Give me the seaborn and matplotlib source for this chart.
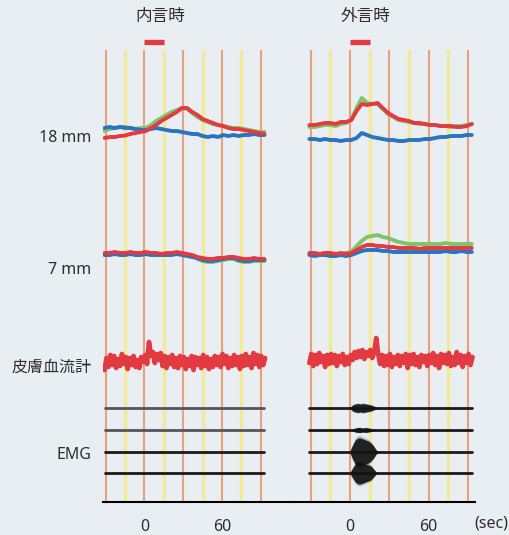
import numpy as np
import pandas as pd
import matplotlib
matplotlib.use("Agg")
import matplotlib.pyplot as plt
import seaborn as sns

# ---------------- data ----------------
# coarse time grid (sec) for the tissue-oxygenation traces
t_coarse = [-31, -27, -23, -19, -15, -11, -7, -3, 1, 5, 9, 13, 17, 21, 25, 29,
            33, 37, 41, 45, 49, 53, 57, 61, 65, 69, 73, 77, 81, 85, 89, 93]

# 18 mm channel, 内言時 (inner speech)
in18_red = [-8, -7, -7, -6, -5.5, -4, -3, -2, -1, 2, 5, 9, 12, 15, 18, 22,
            22, 18, 15, 11, 9, 7, 5, 4, 2, 1, 1, 0, -1, -2, -3, -4]
in18_green = [-1, 1, 2, 3, 3, 2, 1, 2, 2, 5, 9, 12, 15, 18, 20, 22,
              21, 17, 13, 10, 8, 6, 5, 4, 3, 2, 2, 1, 0, -1, -2, -2]
in18_blue = [2, 3, 2, 3, 2, 2, 1, 0, 0, 1, 2, 1, 0, -1, -1, -2,
             -3, -4, -4, -6, -7, -6, -7, -5, -6, -5, -6, -5, -5, -4, -5, -5]
# 18 mm channel, 外言時 (overt speech)
out18_red = [5, 5, 6, 7, 7, 6, 8, 8, 10, 19, 26, 25, 26, 27, 22, 17,
             14, 11, 10, 9, 7, 7, 6, 5, 5, 4, 4, 4, 3, 3, 4, 6]
out18_green = [3, 3, 4, 5, 5, 4, 6, 7, 10, 22, 32, 27, 26, 26, 21, 16,
               13, 10, 9, 8, 7, 6, 6, 5, 5, 4, 4, 3, 4, 4, 5, 6]
out18_blue = [-9, -9, -10, -9, -10, -10, -11, -10, -10, -8, -3, -5, -7, -8, -9, -10,
              -10, -11, -11, -10, -10, -10, -9, -9, -8, -7, -7, -6, -6, -6, -5, -5]

# 7 mm channel
in7_red = [2, 2, 3, 2, 2, 3, 2, 2, 3, 2, 2, 1, 2, 2, 3, 2,
           1, 0, -2, -3, -4, -4, -3, -3, -2, -2, -3, -4, -4, -3, -4, -4]
in7_green = [1, 1, 2, 1, 1, 2, 1, 1, 2, 1, 1, 0, 1, 1, 2, 1,
             0, -1, -4, -6, -7, -7, -6, -5, -4, -4, -6, -7, -7, -6, -6, -6]
in7_blue = [0, 0, 1, 0, 0, 1, 0, 0, 1, 0, 0, 0, 0, 0, 1, 0,
            -1, -2, -3, -5, -6, -6, -5, -4, -3, -3, -5, -6, -6, -5, -5, -5]
out7_red = [2, 2, 1, 2, 2, 1, 2, 1, 2, 5, 8, 10, 10, 9, 9, 8,
            8, 7, 7, 7, 7, 6, 7, 7, 7, 7, 7, 7, 7, 7, 7, 7]
out7_green = [1, 1, 1, 2, 1, 1, 1, 2, 3, 9, 14, 18, 19, 20, 18, 17,
              15, 13, 12, 11, 11, 11, 11, 11, 11, 11, 12, 11, 11, 11, 11, 11]
out7_blue = [0, -1, 0, 0, -1, -1, 0, -1, 0, 2, 4, 5, 5, 5, 4, 4,
             3, 3, 3, 3, 3, 3, 3, 3, 3, 3, 4, 3, 3, 4, 3, 3]

# skin blood flow (皮膚血流計), 1.5 s grid from -31 s
skin_t0, skin_dt = -31.0, 1.5
skin_in = [-8, 4, -5, 7, -3, 6, -6, 3, -4, 8,
           -2, 5, -7, 4, -3, 6, -5, 2, -6, 5,
           0, 7, -2, 20, 6, 10, -1, 8, 2, 9,
           -4, 6, -6, 5, -2, 7, -5, 4, -6, 6,
           -3, 5, -7, 3, -4, 6, -8, 5, -3, 4,
           -6, 7, -4, 5, -7, 3, -5, 6, -3, 5,
           -5, 8, -2, 6, -6, 4, -4, 7, -3, 5,
           -7, 6, -4, 8, -3, 5, -6, 9, -2, 7,
           -5, 6, -3, 4]
skin_out = [-3, 6, -6, 5, -4, 7, -2, 4, -7, 5,
            -4, 6, -3, 5, -6, 4, -2, 6, -5, 3,
            -4, 5, 0, 8, 2, 9, 3, 10, 1, 8,
            4, 10, 2, 8, 22, 6, -4, 5, -6, 4,
            -5, 6, -7, 3, -4, 5, -6, 4, -3, 6,
            -8, 5, -4, 6, -5, 3, -7, 5, -2, 4,
            -6, 5, -3, 7, -5, 4, -8, 6, -3, 5,
            -4, 7, -6, 3, -5, 8, -3, 5, -7, 4,
            -3, 6, -5, 3]

# EMG burst envelopes (overt speech only)
emg_t = [-2, 0, 2, 4, 6, 8, 10, 12, 14, 16, 18, 20, 22, 24]
emg_env = [
    [0, 0.5, 3, 4, 4.5, 4, 4.5, 4, 3.5, 3, 2, 1, 0.5, 0],
    [0, 0, 1, 2, 2.5, 2.5, 2, 2.5, 2, 1.5, 1, 0.5, 0, 0],
    [0, 1, 7, 12, 14, 14, 13, 12, 11, 9, 6, 2, 0.5, 0],
    [0, 0.5, 5, 9, 11, 11, 10, 9, 8, 7, 4, 1, 0, 0],
]

panel_titles = ["内言時", "外言時"]
row_labels = ["18 mm", "7 mm", "皮膚血流計", "EMG"]
tick_vals = [0, 60]
tick_labels = ["0", "60"]
task_window = [0, 15]
orange_t = [-30, 0, 30, 60, 90]
yellow_t = [-15, 15, 45, 75]
trace_span = [-31, 93]

# ---------------- style ----------------
BG = "#e9eef2"
RED = "#e23a40"
GREEN = "#7fc46a"
BLUE = "#2874bf"
ORANGE = "#eba07c"
YELLOW = "#f2ea98"
TXT = "#2e2e2e"
sns.set_style("white")
plt.rcParams["font.family"] = ["Noto Sans", "Noto Sans CJK JP", "DejaVu Sans"]

W, H = 510, 535
fig = plt.figure(figsize=(W / 100, H / 100), dpi=100, facecolor=BG)

# axes placement (pixels)
y_top, y_bot = 50, 502
panels = [
    dict(x0=103, x1=290, zero=144.5, pps=1.29),
    dict(x0=290, x1=475, zero=350.0, pps=1.31),
]
# row baselines (pixel rows) -> data = y_bot - pixel
base18 = y_bot - 130
base7 = y_bot - 255
base_skin = [y_bot - 362, y_bot - 360]
base_emg = [y_bot - p for p in (408, 430, 452, 473)]

traces18 = [(in18_green, in18_blue, in18_red), (out18_green, out18_blue, out18_red)]
traces7 = [(in7_green, in7_blue, in7_red), (out7_green, out7_blue, out7_red)]
skins = [skin_in, skin_out]

for i, p in enumerate(panels):
    ax = fig.add_axes([p["x0"] / W, (H - y_bot) / H, (p["x1"] - p["x0"]) / W,
                       (y_bot - y_top) / H])
    ax.set_facecolor(BG)
    ax.set_xlim((p["x0"] - p["zero"]) / p["pps"], (p["x1"] - p["zero"]) / p["pps"])
    ax.set_ylim(0, y_bot - y_top)

    for t in orange_t:
        ax.axvline(t, color=ORANGE, lw=1.5, zorder=1)
    for t in yellow_t:
        ax.axvline(t, color=YELLOW, lw=2.4, zorder=1)

    # 18 mm and 7 mm traces
    for base, trio in ((base18, traces18[i]), (base7, traces7[i])):
        g, b, r = trio
        df = pd.DataFrame({"t": t_coarse, "g": np.array(g) + base,
                           "b": np.array(b) + base, "r": np.array(r) + base})
        sns.lineplot(data=df, x="t", y="g", ax=ax, color=GREEN, lw=2.8, zorder=3)
        sns.lineplot(data=df, x="t", y="b", ax=ax, color=BLUE, lw=2.8, zorder=3)
        sns.lineplot(data=df, x="t", y="r", ax=ax, color=RED, lw=2.8, zorder=4)

    # skin blood flow
    sk = skins[i]
    st = skin_t0 + skin_dt * np.arange(len(sk))
    dfs = pd.DataFrame({"t": st, "v": np.array(sk) + base_skin[i]})
    sns.lineplot(data=dfs, x="t", y="v", ax=ax, color=RED, lw=3.4, zorder=4)

    # EMG
    for k, yb in enumerate(base_emg):
        col = "#50565c" if (i == 0 and k < 2) else "#1a1a1a"
        dfe = pd.DataFrame({"t": trace_span, "v": [yb, yb]})
        sns.lineplot(data=dfe, x="t", y="v", ax=ax, color=col, lw=2.0, zorder=4)
        if i == 1:
            env = np.array(emg_env[k])
            ax.fill_between(emg_t, yb - env * 1.15, yb + env * 1.15,
                            color="#555555", alpha=0.35, lw=0, zorder=4)
            ax.fill_between(emg_t, yb - env, yb + env, color="#111111",
                            alpha=0.9, lw=0, zorder=5)

    # task bar and title
    ax.plot(task_window, [y_bot - 41.5] * 2, color=RED, lw=3.8,
            solid_capstyle="butt", clip_on=False)
    ax.set_xlabel("")
    ax.set_ylabel("")
    ax.set_yticks([])
    ax.set_xticks(tick_vals)
    ax.set_xticklabels(tick_labels, fontsize=11.5, color=TXT)
    ax.tick_params(axis="x", direction="out", length=6, width=1.5,
                   color="black", pad=6)
    for s in ("top", "left", "right"):
        ax.spines[s].set_visible(False)
    ax.spines["bottom"].set_color("black")
    ax.spines["bottom"].set_linewidth(1.5)

    cx = p["zero"] + 7.5 * p["pps"] + 6
    fig.text(cx / W, 1 - 17.5 / H, panel_titles[i], ha="center", va="center",
             fontsize=12, color=TXT)

label_y = [137.5, 270, 368, 455]
for lab, yy in zip(row_labels, label_y):
    fig.text(91.5 / W, 1 - yy / H, lab, ha="right", va="center",
             fontsize=11.5, color=TXT)

fig.text(508 / W, 1 - 523 / H, "(sec)", ha="right", va="center",
         fontsize=11.5, color=TXT)

fig.savefig("out.png", dpi=100, facecolor=BG)
